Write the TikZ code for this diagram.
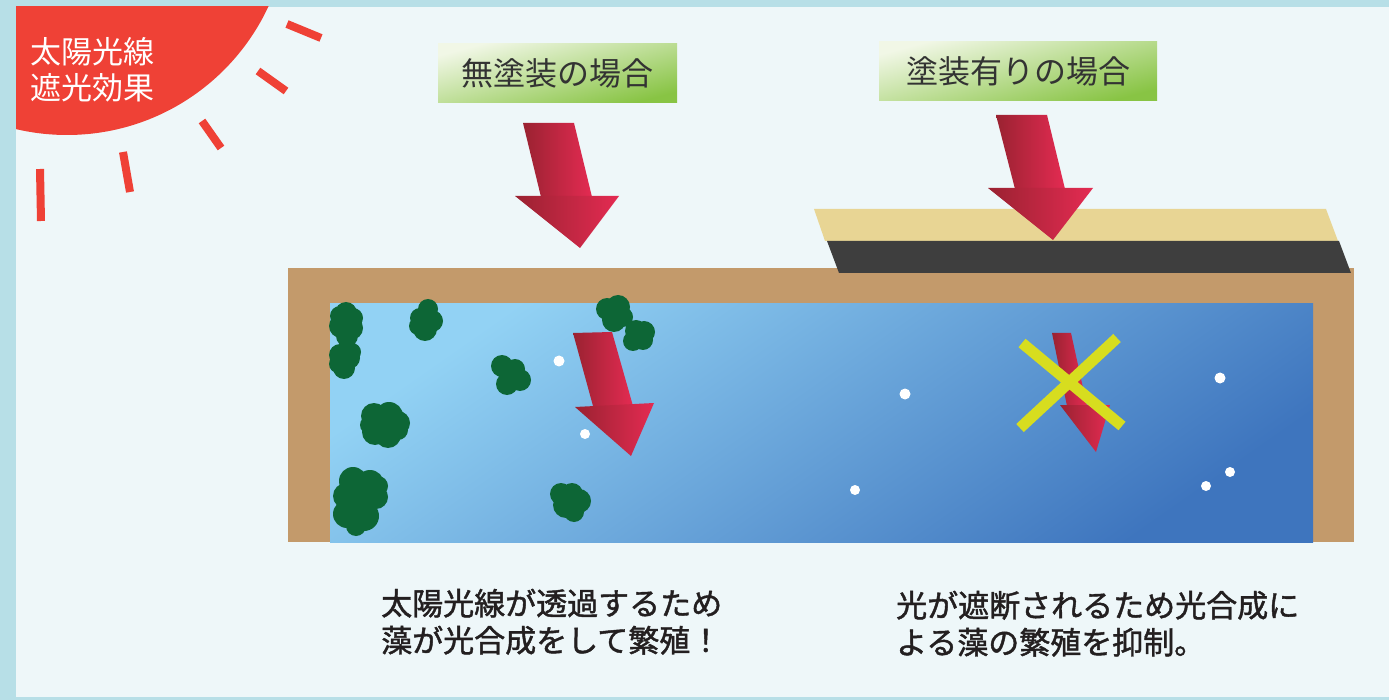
\documentclass[tikz,border=0pt]{standalone}
\usepackage{fontspec}
\newfontfamily\jp{Noto Sans CJK JP}
\newfontfamily\jpmed[FakeBold=1.4]{Noto Sans CJK JP}

% palette
\definecolor{frameblue}{HTML}{B7DFE7}
\definecolor{panel}{HTML}{EEF7F9}
\definecolor{sunred}{HTML}{EF4136}
\definecolor{boxtop}{HTML}{F1F7E6}
\definecolor{boxbot}{HTML}{88C444}
\definecolor{labeltext}{HTML}{333333}
\definecolor{wood}{HTML}{C39A6B}
\definecolor{coattan}{HTML}{E8D594}
\definecolor{coatdark}{HTML}{3E3E3E}
\definecolor{watertop}{HTML}{92D2F4}
\definecolor{waterbot}{HTML}{3E75BE}
\definecolor{algae}{HTML}{0D6636}
\definecolor{arrdark}{HTML}{9A2231}
\definecolor{arrlight}{HTML}{E42B52}
\definecolor{crossyellow}{HTML}{D7DD1F}
\definecolor{bodytext}{HTML}{231F20}

\begin{document}
\begin{tikzpicture}[x=1pt,y=-1pt,
  ray/.style={sunred, line width=8pt},
  casebox/.style={shade, top color=boxtop, bottom color=boxbot, shading angle=15,
    inner sep=0pt, text=labeltext, font=\jp\fontsize{32pt}{38pt}\selectfont},
  bodyline/.style={anchor=base west, inner sep=0pt, text=bodytext,
    font=\jpmed\fontsize{31pt}{36pt}\selectfont},
  sunline/.style={anchor=base west, inner sep=0pt, text=white,
    font=\jp\fontsize{31pt}{36pt}\selectfont},
  redshade/.style={left color=arrdark, right color=arrlight},
  xline/.style={crossyellow, line width=11pt},
  bubble/.style={fill=white},
  algaefill/.style={fill=algae}]

\useasboundingbox (0,0) rectangle (1389,700);

% background frame and panel
\fill[frameblue] (0,0) rectangle (1389,700);
\fill[panel] (16,7) rectangle (1389,697);

% sun in the corner
\begin{scope}
  \clip (16,7) rectangle (1389,697);
  \fill[sunred] (67,-87) circle (222pt);
\end{scope}
\draw[ray] (287,24) -- (321,38);
\draw[ray] (258,71) -- (286,91);
\draw[ray] (202,121) -- (221,148);
\draw[ray] (123,152) -- (130,192);
\draw[ray] (40,169) -- (41,221);
\node[sunline] (sun1) at (30,64) {太陽光線};
\node[sunline] (sun2) at (30,100) {遮光効果};

% case labels
\node[casebox, minimum width=239pt, minimum height=59pt] (plain) at (557.5,73.5) {無塗装の場合};
\node[casebox, minimum width=278pt, minimum height=59pt] (coated) at (1018,71.5) {塗装有りの場合};

% tank wall and water
\fill[wood] (288,268) rectangle (1354,542);
\shade[top color=watertop, bottom color=waterbot, shading angle=35] (330,304) rectangle (1313,542);

% bubbles
\foreach \bx/\by/\br in {559/361/5.5, 585/434/5, 905/394/5.5, 855/490/5, 1220/378/5.5, 1230/472/5, 1206/486/5}
  \fill[bubble] (\bx,\by) circle (\br pt);

% algae colonies
\fill[algaefill] (346,313) circle (11pt) (341,326) circle (12pt) (351,328) circle (12pt)
  (347,336) circle (11pt) (340,316) circle (10pt) (353,318) circle (10pt);
\fill[algaefill] (340,355) circle (11pt) (349,358) circle (11pt) (344,368) circle (11pt)
  (352,352) circle (9pt) (338,364) circle (9pt);
\fill[algaefill] (428,309) circle (10pt) (420,318) circle (10pt) (432,321) circle (11pt)
  (425,329) circle (12pt) (418,326) circle (9pt);
\fill[algaefill] (502,366) circle (11pt) (512,376) circle (13pt) (520,380) circle (11pt)
  (507,384) circle (11pt) (515,369) circle (10pt);
\fill[algaefill] (374,416) circle (13pt) (389,416) circle (14pt) (398,423) circle (12pt)
  (375,432) circle (13pt) (388,435) circle (13pt) (398,430) circle (10pt) (369,425) circle (9pt);
\fill[algaefill] (353,481) circle (14pt) (370,484) circle (14pt) (346,496) circle (13pt)
  (361,500) circle (17pt) (376,497) circle (12pt) (347,514) circle (14pt)
  (364,516) circle (15pt) (356,526) circle (10pt) (378,486) circle (10pt);
\fill[algaefill] (561,494) circle (11pt) (572,494) circle (11pt) (566,505) circle (13pt)
  (579,501) circle (12pt) (574,512) circle (10pt);
\fill[algaefill] (607,309) circle (11pt) (618,307) circle (12pt) (614,320) circle (12pt)
  (623,317) circle (10pt);
\fill[algaefill] (636,331) circle (11pt) (644,332) circle (11pt) (633,341) circle (10pt)
  (643,340) circle (10pt);

% light passing into the water
\shade[redshade] (573,333) -- (612,332) -- (633,406) -- (593,406) -- cycle;
\shade[redshade] (575,407) -- (654,403) -- (631,456) -- cycle;

% blocked light under the coating
\shade[redshade] (1052,333) -- (1071,333) -- (1087,406) -- (1067,406) -- cycle;
\shade[redshade] (1060,405) -- (1110,405) -- (1096,452) -- cycle;
\draw[xline] (1022,343) -- (1122,426);
\draw[xline] (1117,338) -- (1020,428);

% coating layers on the lid
\fill[coattan] (814,209) -- (1326,209) -- (1338,241) -- (825,241) -- cycle;
\fill[coatdark] (827,241) -- (1339,241) -- (1351,273) -- (839,273) -- cycle;

% incoming sunlight
\shade[redshade] (523,123) -- (574,123) -- (592,197) -- (541,197) -- cycle;
\shade[redshade] (515,196) -- (619,196) -- (580,248) -- cycle;
\shade[redshade] (996,115) -- (1047,115) -- (1065,189) -- (1015,189) -- cycle;
\shade[redshade] (988,188) -- (1093,188) -- (1053,240) -- cycle;

% explanations
\node[bodyline] (left1) at (381,615) {太陽光線が透過するため};
\node[bodyline] (left2) at (381,652) {藻が光合成をして繁殖！};
\node[bodyline] (right1) at (896,617) {光が遮断されるため光合成に};
\node[bodyline] (right2) at (896,654) {よる藻の繁殖を抑制。};
\end{tikzpicture}
\end{document}
